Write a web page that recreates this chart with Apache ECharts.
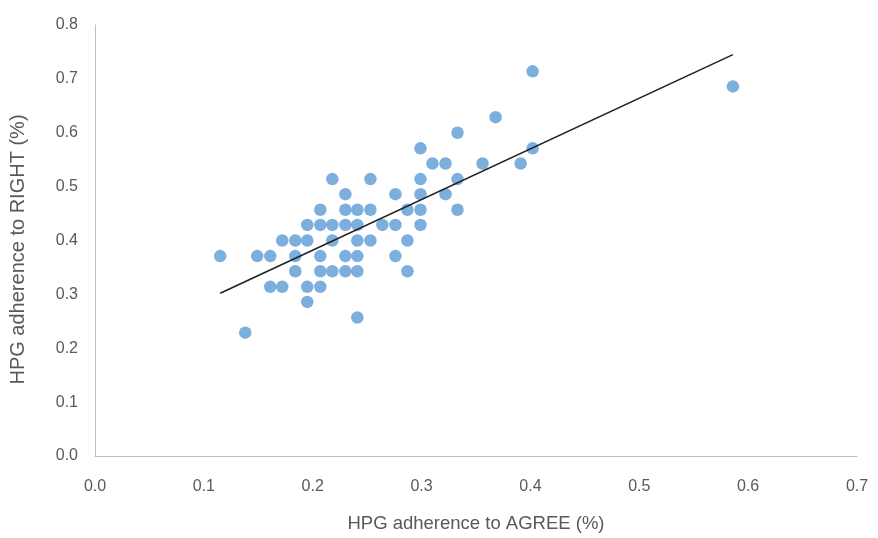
<!DOCTYPE html>
<html>
<head>
<meta charset="utf-8">
<script src="https://cdn.jsdelivr.net/npm/echarts@6/dist/echarts.min.js"></script>
<style>
  html, body { margin: 0; padding: 0; background: #fff; }
  #chart { width: 878px; height: 538px; }
</style>
</head>
<body>
<div id="chart"></div>
<script>
// HPG adherence: AGREE (x) vs RIGHT (y)
var agreeX = [
    0.138,
    0.241,
    0.195,
    0.161, 0.172, 0.195, 0.207,
    0.184, 0.207, 0.218, 0.230, 0.241, 0.287,
    0.115, 0.149, 0.161, 0.184, 0.207, 0.230, 0.241, 0.276,
    0.172, 0.184, 0.195, 0.218, 0.241, 0.253, 0.287,
    0.195, 0.207, 0.218, 0.230, 0.241, 0.264, 0.276, 0.299,
    0.207, 0.230, 0.241, 0.253, 0.287, 0.299, 0.333,
    0.230, 0.276, 0.299, 0.322,
    0.218, 0.253, 0.299, 0.333,
    0.310, 0.322, 0.356, 0.391,
    0.299, 0.402,
    0.333,
    0.368,
    0.586,
    0.402
];
var rightY = [
    0.229,
    0.257,
    0.286,
    0.314, 0.314, 0.314, 0.314,
    0.343, 0.343, 0.343, 0.343, 0.343, 0.343,
    0.371, 0.371, 0.371, 0.371, 0.371, 0.371, 0.371, 0.371,
    0.400, 0.400, 0.400, 0.400, 0.400, 0.400, 0.400,
    0.429, 0.429, 0.429, 0.429, 0.429, 0.429, 0.429, 0.429,
    0.457, 0.457, 0.457, 0.457, 0.457, 0.457, 0.457,
    0.486, 0.486, 0.486, 0.486,
    0.514, 0.514, 0.514, 0.514,
    0.543, 0.543, 0.543, 0.543,
    0.571, 0.571,
    0.600,
    0.629,
    0.686,
    0.714
];
// linear trendline end points
var trendX = [0.115, 0.586];
var trendY = [0.302, 0.745];

var xTicks = ['0.0', '0.1', '0.2', '0.3', '0.4', '0.5', '0.6', '0.7'];
var yTicks = ['0.0', '0.1', '0.2', '0.3', '0.4', '0.5', '0.6', '0.7', '0.8'];

var points = agreeX.map(function (x, i) { return [x, rightY[i]]; });
var trend = trendX.map(function (x, i) { return [x, trendY[i]]; });

var font = 'Liberation Sans, Arial, sans-serif';
var myChart = echarts.init(document.getElementById('chart'));
myChart.setOption({
    animation: false,
    grid: { left: 95, right: 21, top: 25, bottom: 79 },
    xAxis: {
        type: 'value',
        min: 0, max: 0.7, interval: 0.1,
        name: 'HPG adherence to AGREE (%)',
        nameLocation: 'middle',
        nameGap: 58,
        nameTextStyle: { color: '#595959', fontSize: 18.5, fontFamily: font },
        axisLine: { lineStyle: { color: '#bfbfbf', width: 1 } },
        axisTick: { show: false },
        splitLine: { show: false },
        axisLabel: {
            color: '#595959', fontSize: 16, fontFamily: font, margin: 23,
            formatter: function (v) { return xTicks[Math.round(v * 10)]; }
        }
    },
    yAxis: {
        type: 'value',
        min: 0, max: 0.8, interval: 0.1,
        name: 'HPG adherence to RIGHT (%)',
        nameLocation: 'middle',
        nameGap: 67,
        nameTextStyle: {
            color: '#595959', fontSize: 20, fontFamily: font,
            padding: [0, 18, 0, 0]
        },
        axisLine: { show: true, lineStyle: { color: '#bfbfbf', width: 1 } },
        axisTick: { show: false },
        splitLine: { show: false },
        axisLabel: {
            color: '#595959', fontSize: 16, fontFamily: font, margin: 17,
            formatter: function (v) { return yTicks[Math.round(v * 10)]; }
        }
    },
    series: [
        {
            type: 'scatter',
            data: points,
            symbolSize: 12.5,
            itemStyle: { color: '#5b9bd5' }
        },
        {
            type: 'line',
            data: trend,
            symbol: 'none',
            lineStyle: { color: '#1f1f1f', width: 1.5 },
            z: 3
        }
    ]
});
</script>
</body>
</html>
